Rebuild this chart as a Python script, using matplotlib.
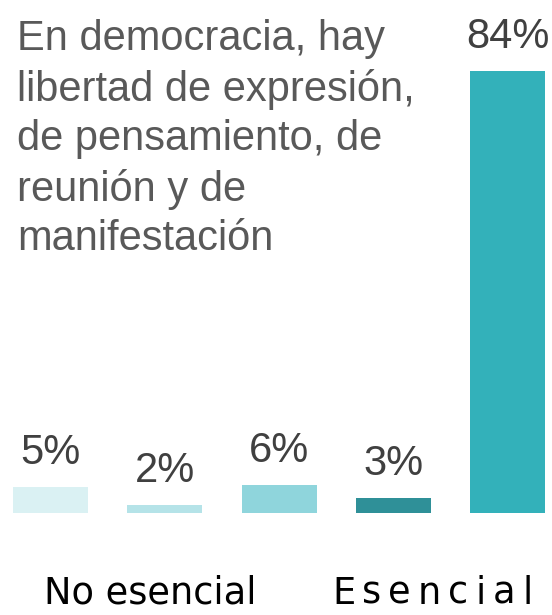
import matplotlib
matplotlib.use("Agg")
import matplotlib.pyplot as plt

# data
categories = ["1", "2", "3", "4", "5"]
values = [4.8, 1.5, 5.2, 2.7, 84]
value_labels = ["5%", "2%", "6%", "3%", "84%"]
colors = ["#DAF1F3", "#B5E3E8", "#8FD5DC", "#2F9098", "#33B1BA"]
title = "En democracia, hay\nlibertad de expresión,\nde pensamiento, de\nreunión y de\nmanifestación"
left_label = "No esencial"
right_label = "Esencial"

W, H = 552, 615
fig = plt.figure(figsize=(W / 100, H / 100), dpi=100)
plt.rcParams['font.family'] = ['Liberation Sans', 'DejaVu Sans']

# axes spans whole width, bar baseline at y=512.5 px from top
base = 102.5
step = 114.25   # px between bar centres
first = 50.5    # px of first bar centre
ax = fig.add_axes([0, base / H, 1, 1 - base / H])
px_per_unit = 441.5 / 84
ax.set_xlim(-first / step, (W - first) / step)
ax.set_ylim(0, (H - base) / px_per_unit)
ax.axis("off")

x = list(range(len(values)))
bars = ax.bar(x, values, width=75 / step, color=colors)
for b, lab in zip(bars, value_labels):
    ax.annotate(lab, (b.get_x() + b.get_width() / 2, b.get_height()),
                xytext=(0, 10), textcoords="offset points",
                ha="center", va="bottom", fontsize=30, color="#404040")

fig.text(17 / W, 1 - 19 / H, title, ha="left", va="top", fontsize=30,
         color="#595959", linespacing=1.30)

# bottom labels (baseline kept high enough that descenders stay inside)
fig.text(150 / W, 1 - 604 / H, left_label, ha="center", va="baseline",
         fontsize=26.5, color="black", family="DejaVu Sans")

# letter-spaced "Esencial"
renderer = fig.canvas.get_renderer()
xpos = 332
for ch in right_label:
    t = fig.text(xpos / W, 1 - 604 / H, ch, ha="left", va="baseline",
                 fontsize=26.5, color="black", family="DejaVu Sans")
    xpos += t.get_window_extent(renderer).width + 7

fig.savefig("out.png", dpi=100)
